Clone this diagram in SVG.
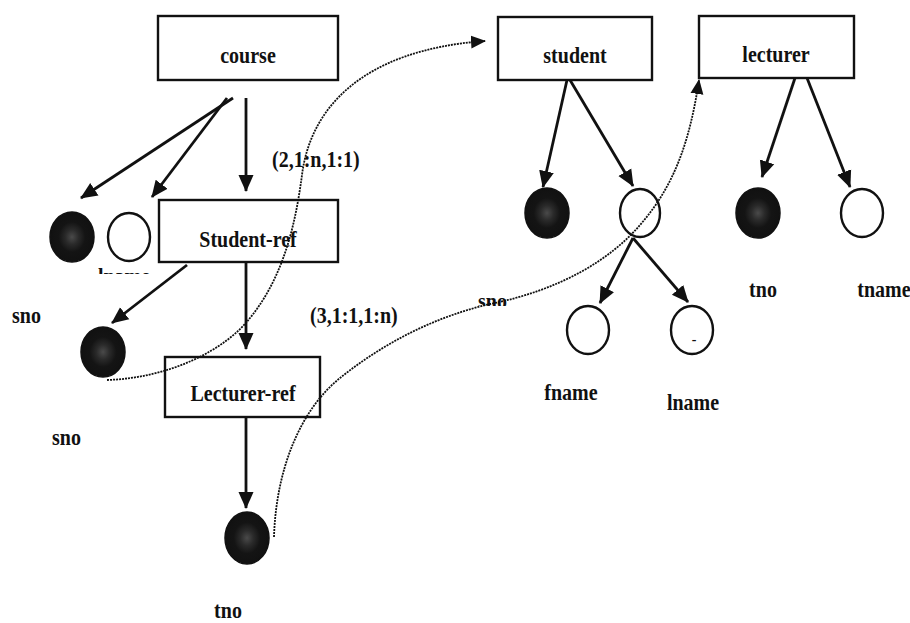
<svg xmlns="http://www.w3.org/2000/svg" width="910" height="623" viewBox="0 0 910 623">
  <style>
    .box { fill: #fff; stroke: #111; stroke-width: 2.4; }
    .lbl { font-family: "Liberation Serif", "Times New Roman", serif; font-weight: bold; font-size: 20px; fill: #111; }
    .mid { text-anchor: middle; }
    .key { fill: url(#speckle); stroke: #111; stroke-width: 1.5; }
    .att { fill: #fff; stroke: #111; stroke-width: 2.4; }
    .edge { fill: none; stroke: #111; stroke-width: 2.8; }
    .ref { fill: none; stroke: #111; stroke-width: 1.8; stroke-dasharray: 2 1; }
  </style>
  <defs>
    <radialGradient id="speckle" cx="0.5" cy="0.5" r="0.5">
      <stop offset="0" stop-color="#4a4a4a"/>
      <stop offset="0.3" stop-color="#2a2a2a"/>
      <stop offset="0.6" stop-color="#141414"/>
      <stop offset="1" stop-color="#111"/>
    </radialGradient>
    <marker id="arrow" viewBox="0 0 17 17" refX="16" refY="8.5" markerWidth="17" markerHeight="17" markerUnits="userSpaceOnUse" orient="auto">
      <path d="M0,1 L17,8.5 L0,16 z" fill="#111"/>
    </marker>
    <marker id="refarrow" viewBox="0 0 15 15" refX="14" refY="7.5" markerWidth="15" markerHeight="15" markerUnits="userSpaceOnUse" orient="auto">
      <path d="M0,1 L15,7.5 L0,14 z" fill="#111"/>
    </marker>
    <clipPath id="cutL"><rect x="90" y="255" width="70" height="19"/></clipPath>
    <clipPath id="cutS"><rect x="470" y="290" width="50" height="16"/></clipPath>
  </defs>

  <!-- entity boxes -->
  <g id="course"><rect class="box" x="158" y="16" width="180" height="64"/><text class="lbl mid" transform="translate(248 63) scale(1 1.2)">course</text></g>
  <g id="student-ref"><rect class="box" x="159" y="200" width="179" height="62"/><text class="lbl mid" transform="translate(248 247) scale(1 1.2)">Student-ref</text></g>
  <g id="lecturer-ref"><rect class="box" x="165" y="357" width="155" height="60"/><text class="lbl mid" transform="translate(243 401) scale(1 1.2)">Lecturer-ref</text></g>
  <g id="student"><rect class="box" x="498" y="17" width="154" height="63"/><text class="lbl mid" transform="translate(575 63) scale(1 1.2)">student</text></g>
  <g id="lecturer"><rect class="box" x="699" y="16" width="155" height="62"/><text class="lbl mid" transform="translate(776 62) scale(1 1.2)">lecturer</text></g>

  <!-- attribute circles -->
  <g id="course-key"><ellipse class="key" cx="72" cy="237" rx="22" ry="25"/></g>
  <g id="course-lname"><ellipse class="att" cx="129" cy="237" rx="21" ry="24"/><text class="lbl mid" x="124" y="283" clip-path="url(#cutL)">lname</text></g>
  <g id="sref-sno"><ellipse class="key" cx="103" cy="352" rx="22" ry="25"/></g>
  <g id="lref-tno"><ellipse class="key" cx="247" cy="538" rx="22" ry="26"/></g>
  <g id="student-sno"><ellipse class="key" cx="547" cy="213" rx="22" ry="25"/></g>
  <g id="student-name"><ellipse class="att" cx="640" cy="213" rx="20" ry="24"/></g>
  <g id="student-fname"><ellipse class="att" cx="588" cy="330" rx="21" ry="24"/></g>
  <g id="student-lname"><ellipse class="att" cx="692" cy="330" rx="21" ry="24"/><text class="lbl mid" x="694" y="344" style="font-size:14px">-</text></g>
  <g id="lecturer-tno"><ellipse class="key" cx="758" cy="213" rx="22" ry="25"/></g>
  <g id="lecturer-tname"><ellipse class="att" cx="862" cy="213" rx="21" ry="24"/></g>

  <!-- free labels -->
  <g id="labels">
    <text class="lbl" transform="translate(12 323) scale(1 1.2)">sno</text>
    <text class="lbl" transform="translate(52 445) scale(1 1.2)">sno</text>
    <text class="lbl mid" transform="translate(228 618) scale(1 1.2)">tno</text>
    <text class="lbl" x="478" y="308" clip-path="url(#cutS)">sno</text>
    <text class="lbl mid" transform="translate(571 400) scale(1 1.2)">fname</text>
    <text class="lbl mid" transform="translate(693 410) scale(1 1.2)">lname</text>
    <text class="lbl mid" transform="translate(763 297) scale(1 1.2)">tno</text>
    <text class="lbl mid" transform="translate(884 297) scale(1 1.2)">tname</text>
    <text class="lbl" transform="translate(272 167) scale(1 1.2)">(2,1:n,1:1)</text>
    <text class="lbl" transform="translate(310 323) scale(1 1.2)">(3,1:1,1:n)</text>
  </g>

  <!-- connectors -->
  <g id="connectors">
    <line class="edge" x1="233" y1="98" x2="81" y2="198" marker-end="url(#arrow)"/>
    <line class="edge" x1="227" y1="98" x2="152" y2="197" marker-end="url(#arrow)"/>
    <line class="edge" x1="246" y1="98" x2="246" y2="191" marker-end="url(#arrow)"/>
    <line class="edge" x1="187" y1="265" x2="112" y2="323" marker-end="url(#arrow)"/>
    <line class="edge" x1="246" y1="262" x2="246" y2="349" marker-end="url(#arrow)"/>
    <line class="edge" x1="246" y1="417" x2="246" y2="508" marker-end="url(#arrow)"/>
    <line class="edge" x1="567" y1="80" x2="543" y2="187" marker-end="url(#arrow)"/>
    <line class="edge" x1="570" y1="80" x2="633" y2="186" marker-end="url(#arrow)"/>
    <line class="edge" x1="633" y1="238" x2="600" y2="303" marker-end="url(#arrow)"/>
    <line class="edge" x1="633" y1="238" x2="688" y2="302" marker-end="url(#arrow)"/>
    <line class="edge" x1="795" y1="78" x2="762" y2="177" marker-end="url(#arrow)"/>
    <line class="edge" x1="807" y1="78" x2="850" y2="187" marker-end="url(#arrow)"/>
    <path class="ref" d="M107,380 C170,378 225,350 250,318 C285,275 296,220 302,175 C310,110 360,50 485,41" marker-end="url(#refarrow)"/>
    <path class="ref" d="M274,537 C276,470 300,410 340,378 C380,346 430,318 490,304 C560,290 610,260 640,225 C675,185 690,140 699,80" marker-end="url(#refarrow)"/>
  </g>
</svg>
